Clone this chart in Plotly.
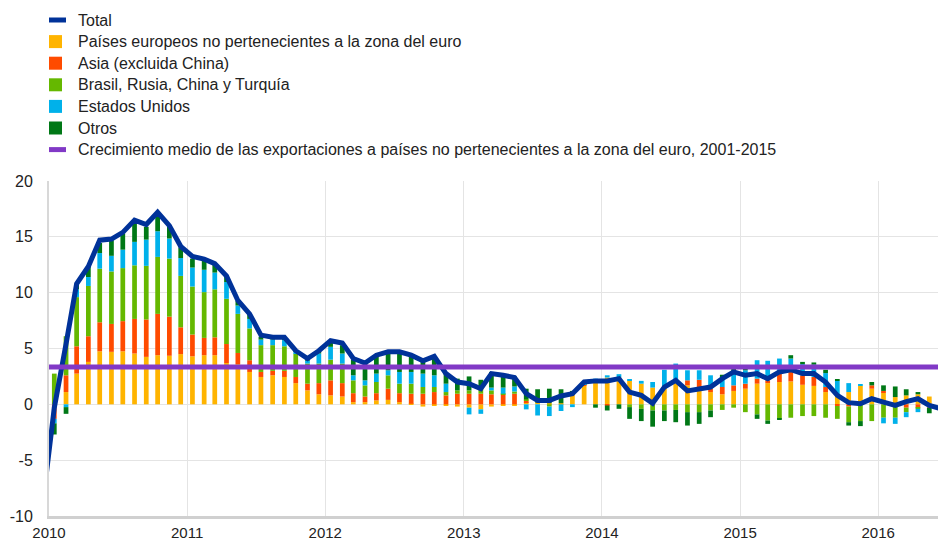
import pandas as pd
import plotly.graph_objects as go

# Monthly observations, Dec 2009 - Jun 2016 (percentage points)
months = pd.date_range("2009-12-01", periods=79, freq="MS") + pd.Timedelta(days=14)

europa_no_euro = [-3.0, 0.0, 1.1, 2.75, 3.8, 4.75, 4.7, 4.75, 4.55, 4.25, 4.4, 4.35, 4.5, 4.3,
                  4.4, 4.4, 3.7, 3.6, 2.9, 2.45, 2.6, 2.45, 1.9, 1.25, 0.9, 0.8, 0.7, 0.2, 0.2,
                  0.35, 0.4, 0.2, 0.05, -0.2, -0.1, -0.15, -0.2, -0.3, -0.45, -0.2, -0.1, -0.1,
                  0.2, 0.2, 0.1, 0.1, 0.85, 1.7, 2.15, 2.4, 2.4, 2.15, 1.85, 1.5, 1.5, 2.15,
                  1.7, 1.55, 1.1, 0.9, 1.2, 1.4, 1.85, 1.9, 2.0, 2.05, 1.75, 1.65, 1.1, 0.8,
                  1.1, 1.65, 1.4, 1.05, 0.65, 0.8, 0.9, 0.7, 0.3]
asia_sin_china = [-2.0, -1.3, 1.5, 2.45, 2.3, 2.6, 2.5, 2.7, 3.1, 3.35, 3.7, 3.5, 2.4, 1.95,
                  1.55, 1.6, 1.7, 1.0, 1.05, 0.45, 0.4, 0.55, 0.55, 0.6, 1.0, 1.35, 1.2, 0.8,
                  0.5, 0.65, 1.0, 0.8, 0.9, 0.95, 1.1, 0.8, 0.95, 0.95, 0.95, 0.9, 0.9, 0.95,
                  0.15, 0.0, 0.0, 0.0, 0.0, 0.05, 0.0, -0.1, 0.0, 0.0, 0.0, 0.0, 0.0, 0.0,
                  0.45, 0.65, 0.3, 0.65, 0.5, 0.45, 0.45, 0.25, 0.9, 0.85, 0.85, 0.8, 0.45,
                  -0.15, -0.2, 0.0, 0.3, 0.15, 0.0, -0.3, -0.3, -0.3, -0.2]
brics_tur = [-1.5, 2.75, 3.5, 4.4, 4.5, 4.8, 4.7, 4.75, 4.8, 4.8, 5.1, 5.2, 4.6, 4.3, 4.1,
             4.3, 4.05, 3.5, 2.85, 2.4, 2.3, 2.2, 2.1, 1.8, 1.75, 1.85, 1.75, 1.15, 1.0, 1.0,
             1.2, 0.85, 0.9, 0.6, 0.45, 0.3, 0.3, 0.3, 0.45, 0.35, 0.05, 0.2, 0.1, 0.1, -0.2,
             0.0, 0.1, 0.05, 0.0, 0.0, 0.0, -0.25, -0.4, -0.55, -0.55, -0.5, -0.7, -0.7,
             -0.55, -0.5, -0.3, -0.7, -0.9, -1.45, -1.3, -1.2, -1.05, -1.05, -1.2, -1.15,
             -1.4, -1.5, -1.5, -1.2, -1.2, -0.4, -0.1, 0.0, -0.1]
estados_unidos = [-1.0, -0.4, -0.25, 0.7, 0.8, 1.4, 1.4, 1.65, 2.1, 2.35, 2.3, 1.8, 1.6, 1.7,
                  2.0, 1.5, 1.5, 0.75, 0.85, 0.5, 0.5, 0.55, 0.15, 0.25, 0.9, 1.15, 0.9, 0.45,
                  0.45, 0.75, 0.45, 1.05, 1.05, 1.2, 1.05, 0.75, 0.0, -0.6, -0.4, 0.25, 0.55,
                  0.45, -0.45, -1.0, -0.85, -0.6, -0.25, 0.1, 0.15, 0.2, 0.3, 0.1, 0.25, 0.5,
                  1.6, 1.5, 0.9, 0.85, 1.2, 0.85, 1.2, 1.2, 1.65, 1.75, 1.2, 1.2, 1.0, 1.1,
                  1.25, 1.3, 0.8, 0.15, 0.0, -0.5, -0.55, -0.45, -0.3, 0.0, -0.1]
otros = [-1.5, -1.0, -0.6, 0.5, 0.9, 0.9, 1.4, 1.45, 1.65, 1.15, 1.3, 1.1, 0.95, 0.8, 0.85,
         0.7, 0.6, 0.4, 0.45, 0.25, 0.2, 0.25, 0.1, 0.2, 0.2, 0.45, 0.75, 1.4, 1.6, 1.5, 1.5,
         1.8, 1.35, 1.3, 1.6, 0.9, 1.05, 1.25, 0.8, 1.4, 1.2, 0.9, 0.95, 1.05, 1.3, 1.25,
         0.25, 0.1, -0.3, -0.45, -0.4, -1.05, -1.1, -1.45, -0.95, -1.1, -1.2, -1.05, -0.6,
         0.25, 0.3, 0.25, -0.4, -0.3, -0.1, 0.3, 0.2, 0.2, 0.3, 0.1, -0.3, -0.45, 0.3, 0.5,
         0.95, 0.55, 0.2, -0.5, -0.3]
total = [-9.0, -0.3, 5.4, 10.8, 12.35, 14.7, 14.8, 15.4, 16.5, 16.1, 17.2, 16.0, 14.15, 13.25,
         13.0, 12.6, 11.5, 9.3, 8.1, 6.2, 6.0, 6.0, 4.8, 4.1, 4.8, 5.7, 5.5, 4.1, 3.7, 4.4,
         4.7, 4.7, 4.4, 3.9, 4.3, 2.75, 2.0, 1.85, 1.4, 2.75, 2.6, 2.4, 0.95, 0.35, 0.35,
         0.75, 0.95, 2.0, 2.1, 2.1, 2.3, 1.1, 0.8, 0.1, 1.55, 2.15, 1.2, 1.4, 1.55, 2.3, 2.9,
         2.6, 2.75, 2.3, 2.9, 3.1, 2.75, 2.75, 2.0, 0.8, 0.15, 0.05, 0.5, 0.2, -0.1, 0.25,
         0.5, -0.1, -0.4]
crecimiento_medio = 3.35  # average 2001-2015

series_names = ["Países europeos no pertenecientes a la zona del euro",
                "Asia (excluida China)",
                "Brasil, Rusia, China y Turquía",
                "Estados Unidos",
                "Otros"]
total_name = "Total"
avg_name = ("Crecimiento medio de las exportaciones a países no pertenecientes "
            "a la zona del euro, 2001-2015")

y_tick_vals = [-10, -5, 0, 5, 10, 15, 20]
y_tick_text = ["-10", "-5", "0", "5", "10", "15", "20"]
x_tick_vals = ["2010-01-01", "2011-01-01", "2012-01-01", "2013-01-01",
               "2014-01-01", "2015-01-01", "2016-01-01"]
x_tick_text = ["2010", "2011", "2012", "2013", "2014", "2015", "2016"]

colors = ["#FFB400", "#FF4B00", "#65B800", "#00B1EA", "#007816"]
TOTAL_COLOR = "#003299"
AVG_COLOR = "#8139C6"
FONT = "Arial, 'Liberation Sans', sans-serif"
TEXT_COLOR = "#222222"

W, H = 938, 541
ML, MR, MT, MB = 49, 0, 181, 25
PW, PH = W - ML - MR, H - MT - MB

fig = go.Figure()
bar_width_ms = 12.5 * 24 * 3600 * 1000
for k, (name, vals) in enumerate(zip(series_names,
                                      [europa_no_euro, asia_sin_china, brics_tur,
                                       estados_unidos, otros])):
    fig.add_trace(go.Bar(x=months, y=vals, name=name, marker_color=colors[k],
                         marker_line_width=0, width=bar_width_ms, showlegend=False))

fig.add_trace(go.Scatter(x=months, y=total, name=total_name, mode="lines",
                         line=dict(color=TOTAL_COLOR, width=5), showlegend=False))
fig.add_trace(go.Scatter(x=months, y=[crecimiento_medio] * len(months), name=avg_name,
                         mode="lines", line=dict(color=AVG_COLOR, width=5), showlegend=False))

# Legend (keys + labels above the plot area)
legend_items = [(total_name, TOTAL_COLOR, "line")] + \
               [(n, c, "box") for n, c in zip(series_names, colors)] + \
               [(avg_name, AVG_COLOR, "line")]


def px_x(px):
    return (px - ML) / PW


def px_y(py):
    return 1 + (MT - py) / PH


shapes = []
annotations = []
for k, (name, col, kind) in enumerate(legend_items):
    yc = 20 + 21.6 * k
    if kind == "line":
        shapes.append(dict(type="line", xref="paper", yref="paper",
                           x0=px_x(49), x1=px_x(66), y0=px_y(yc), y1=px_y(yc),
                           line=dict(color=col, width=5)))
    else:
        shapes.append(dict(type="rect", xref="paper", yref="paper",
                           x0=px_x(49), x1=px_x(62), y0=px_y(yc - 6.5), y1=px_y(yc + 6.5),
                           fillcolor=col, line=dict(width=0)))
    annotations.append(dict(text=name, xref="paper", yref="paper", x=px_x(76), y=px_y(yc),
                            xanchor="left", yanchor="middle", showarrow=False,
                            font=dict(family=FONT, size=16, color=TEXT_COLOR)))

fig.update_layout(
    width=W, height=H,
    margin=dict(l=ML, r=MR, t=MT, b=MB, autoexpand=False),
    barmode="relative",
    paper_bgcolor="white", plot_bgcolor="white",
    font=dict(family=FONT, size=16, color=TEXT_COLOR),
    showlegend=False,
    shapes=shapes,
    annotations=annotations,
    xaxis=dict(type="date", range=["2010-01-01", "2016-06-07"],
               tickvals=x_tick_vals, ticktext=x_tick_text,
               tickfont=dict(size=15),
               showgrid=True, gridcolor="#e4e4e4", gridwidth=1,
               showline=True, linecolor="#d0d0d0", linewidth=3,
               ticks="", ticklabelstandoff=1, zeroline=False, automargin=False),
    yaxis=dict(range=[-10, 20], tickvals=y_tick_vals, ticktext=y_tick_text,
               showgrid=True, gridcolor="#e4e4e4", gridwidth=1,
               showline=True, linecolor="#d8d8d8", linewidth=2,
               ticks="", ticklabelstandoff=11, zeroline=False, automargin=False),
)

fig.write_html("out.html",
               config={"displayModeBar": False},
               post_script="document.body.style.margin='0';document.body.style.overflow='hidden';")
